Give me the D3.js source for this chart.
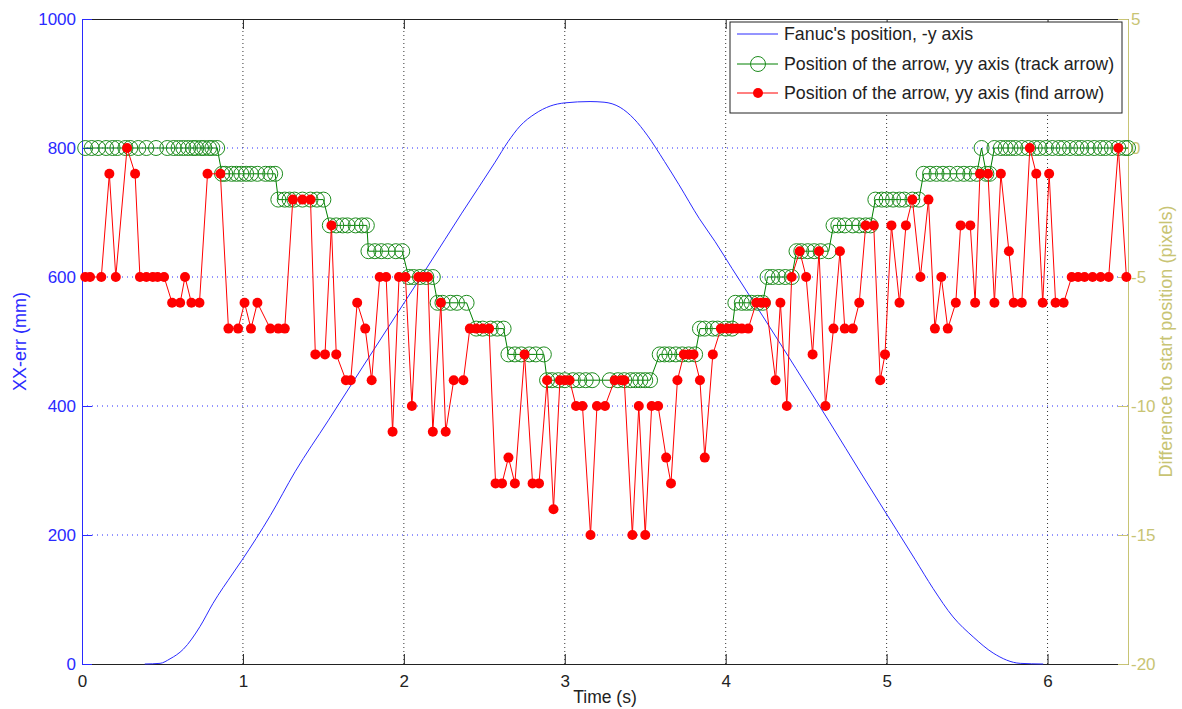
<!DOCTYPE html>
<html>
<head>
<meta charset="utf-8">
<script src="https://cdn.jsdelivr.net/npm/d3@7"></script>
<style>
  body { margin: 0; background: #fff; }
  svg { font-family: "Liberation Sans", Arial, Helvetica, sans-serif; }
</style>
</head>
<body>
<div id="chart"></div>
<script>
// axis ticks
const timeTicks = [0, 1, 2, 3, 4, 5, 6];
const leftTicks = [0, 200, 400, 600, 800, 1000];
const rightTicks = [-20, -15, -10, -5, 0, 5];

// Fanuc's position (mm) against time (s)
const fanucPos = [
  [0.39, 0], [0.485, 1], [0.547, 8], [0.63, 23], [0.733, 58], [0.814, 94], [0.939, 141],
  [0.994, 161], [1.17, 230], [1.324, 298], [1.529, 377], [1.74, 459], [2.007, 562],
  [2.15, 617], [2.36, 699], [2.567, 778], [2.648, 810], [2.722, 834], [2.815, 853],
  [2.909, 865], [3.002, 870], [3.157, 872], [3.244, 871], [3.344, 863], [3.431, 845],
  [3.512, 820], [3.62, 779], [3.71, 743], [3.835, 691], [3.934, 655], [4.04, 613],
  [4.226, 541], [4.437, 458], [4.643, 376], [4.848, 293], [5.059, 209], [5.177, 162],
  [5.289, 117], [5.413, 73], [5.538, 42], [5.662, 17], [5.83, 1], [5.973, 0]
];

// arrow position (pixels), track arrow
const trackArrow = [
  [0.02,0],[0.06,0],[0.10,0],[0.15,0],[0.19,0],[0.22,0],[0.27,0],[0.30,0],[0.35,0],[0.40,0],
  [0.46,0],[0.53,0],[0.57,0],[0.60,0],[0.63,0],[0.66,0],[0.69,0],[0.71,0],[0.74,0],[0.76,0],
  [0.79,0],[0.81,0],[0.84,0],
  [0.87,-1],[0.89,-1],[0.93,-1],[0.96,-1],[0.99,-1],[1.02,-1],[1.05,-1],[1.09,-1],[1.14,-1],
  [1.17,-1],[1.20,-1],
  [1.22,-2],[1.26,-2],[1.29,-2],[1.32,-2],[1.37,-2],[1.42,-2],[1.46,-2],[1.50,-2],
  [1.54,-3],[1.58,-3],[1.62,-3],[1.65,-3],[1.70,-3],[1.74,-3],[1.77,-3],
  [1.78,-4],[1.82,-4],[1.86,-4],[1.90,-4],[1.95,-4],[1.99,-4],
  [2.03,-5],[2.06,-5],[2.10,-5],[2.14,-5],[2.18,-5],
  [2.21,-6],[2.24,-6],[2.29,-6],[2.33,-6],[2.39,-6],
  [2.45,-7],[2.49,-7],[2.54,-7],[2.58,-7],[2.62,-7],
  [2.65,-8],[2.69,-8],[2.73,-8],[2.78,-8],[2.82,-8],[2.87,-8],
  [2.89,-9],[2.92,-9],[2.96,-9],[3.00,-9],[3.05,-9],[3.09,-9],[3.13,-9],[3.17,-9],
  [3.28,-9],[3.33,-9],[3.37,-9],[3.41,-9],[3.44,-9],[3.47,-9],[3.50,-9],[3.53,-9],
  [3.59,-8],[3.62,-8],[3.65,-8],[3.69,-8],[3.73,-8],[3.77,-8],[3.81,-8],
  [3.84,-7],[3.87,-7],[3.92,-7],[3.95,-7],[4.00,-7],[4.04,-7],
  [4.06,-6],[4.10,-6],[4.13,-6],[4.16,-6],[4.20,-6],[4.23,-6],
  [4.26,-5],[4.29,-5],[4.33,-5],[4.37,-5],[4.41,-5],
  [4.44,-4],[4.47,-4],[4.51,-4],[4.55,-4],[4.59,-4],[4.64,-4],
  [4.67,-3],[4.70,-3],[4.74,-3],[4.79,-3],[4.83,-3],[4.87,-3],[4.90,-3],
  [4.93,-2],[4.97,-2],[5.00,-2],[5.04,-2],[5.08,-2],[5.11,-2],[5.16,-2],[5.20,-2],
  [5.23,-1],[5.27,-1],[5.31,-1],[5.35,-1],[5.39,-1],[5.44,-1],[5.48,-1],[5.52,-1],[5.56,-1],
  [5.59,0],[5.62,-1],[5.64,-1],[5.67,0],
  [5.71,0],[5.74,0],[5.77,0],[5.80,0],[5.84,0],[5.88,0],[5.92,0],[5.95,0],[5.99,0],[6.03,0],
  [6.07,0],[6.10,0],[6.14,0],[6.18,0],[6.21,0],[6.25,0],[6.29,0],[6.33,0],[6.36,0],[6.40,0],
  [6.44,0],[6.48,0],[6.50,0]
];

// arrow position (pixels), find arrow
const findArrow = [
  [0.02,-5],[0.05,-5],[0.12,-5],[0.17,-1],[0.21,-5],[0.28,0],[0.33,-1],[0.36,-5],[0.40,-5],
  [0.44,-5],[0.47,-5],[0.51,-5],[0.56,-6],[0.61,-6],[0.64,-5],[0.68,-6],[0.73,-6],[0.78,-1],
  [0.86,-1],[0.91,-7],[0.97,-7],[1.01,-6],[1.05,-7],[1.09,-6],[1.17,-7],[1.22,-7],[1.26,-7],
  [1.31,-2],[1.37,-2],[1.42,-2],[1.45,-8],[1.51,-8],[1.55,-3],[1.58,-8],[1.64,-9],[1.67,-9],
  [1.71,-6],[1.76,-7],[1.80,-9],[1.85,-5],[1.89,-5],[1.93,-11],[1.97,-5],[2.01,-5],[2.05,-10],
  [2.09,-5],[2.12,-5],[2.15,-5],[2.18,-11],[2.23,-6],[2.26,-11],[2.31,-9],[2.37,-9],[2.41,-7],
  [2.45,-7],[2.49,-7],[2.53,-7],[2.57,-13],[2.61,-13],[2.65,-12],[2.69,-13],[2.75,-8],[2.80,-13],
  [2.84,-13],[2.89,-9],[2.93,-14],[2.97,-9],[3.00,-9],[3.03,-9],[3.07,-10],[3.11,-10],[3.16,-15],
  [3.20,-10],[3.25,-10],[3.31,-9],[3.35,-9],[3.37,-9],[3.42,-15],[3.46,-10],[3.50,-15],[3.54,-10],
  [3.58,-10],[3.63,-12],[3.66,-13],[3.70,-9],[3.74,-8],[3.77,-8],[3.80,-8],[3.84,-9],[3.87,-12],
  [3.92,-8],[3.97,-7],[4.01,-7],[4.04,-7],[4.07,-7],[4.10,-7],[4.14,-7],[4.19,-6],[4.22,-6],
  [4.25,-6],[4.31,-9],[4.34,-6],[4.38,-10],[4.41,-5],[4.46,-4],[4.50,-5],[4.54,-8],[4.58,-4],
  [4.62,-10],[4.67,-7],[4.71,-4],[4.74,-7],[4.79,-7],[4.83,-6],[4.87,-3],[4.92,-3],[4.96,-9],
  [4.99,-8],[5.03,-3],[5.08,-6],[5.12,-3],[5.16,-2],[5.21,-5],[5.26,-2],[5.30,-7],[5.34,-5],
  [5.38,-7],[5.43,-6],[5.46,-3],[5.52,-3],[5.55,-6],[5.58,-1],[5.63,-1],[5.67,-6],[5.71,-1],
  [5.76,-4],[5.79,-6],[5.84,-6],[5.89,0],[5.93,-1],[5.97,-6],[6.01,-1],[6.05,-6],[6.10,-6],
  [6.15,-5],[6.19,-5],[6.23,-5],[6.28,-5],[6.33,-5],[6.38,-5],[6.44,0],[6.49,-5]
];

const legendLabels = [
  "Fanuc's position, -y axis",
  "Position of the arrow, yy axis (track arrow)",
  "Position of the arrow, yy axis (find arrow)"
];

const W = 1182, H = 709;
const mLeft = 82, mRight = 1128, mTop = 19, mBottom = 664;
const blue = "#2a2aff", olive = "#c8c474", green = "#008000", red = "#ff0000";

const svg = d3.select("#chart")
              .append("svg")
              .attr("width", W)
              .attr("height", H);

const x = d3.scaleLinear().domain([0, 6.5]).range([mLeft, mRight]);
const yL = d3.scaleLinear().domain([0, 1000]).range([mBottom, mTop]);
const yR = d3.scaleLinear().domain([-20, 5]).range([mBottom, mTop]);

const plain = d => String(d).replace("\u2212", "-");

// grid lines
svg.append("g")
   .selectAll("line")
   .data(timeTicks.slice(1))
   .enter()
   .append("line")
   .attr("x1", d => x(d)).attr("x2", d => x(d))
   .attr("y1", mTop).attr("y2", mBottom)
   .attr("stroke", "#333")
   .attr("stroke-dasharray", "1,3");

svg.append("g")
   .selectAll("line")
   .data(leftTicks.slice(1, -1))
   .enter()
   .append("line")
   .attr("x1", mLeft).attr("x2", mRight)
   .attr("y1", d => yL(d)).attr("y2", d => yL(d))
   .attr("stroke", blue)
   .attr("stroke-dasharray", "1,4");

// x axis (bottom + top)
const xAxis = svg.append("g")
   .attr("transform", `translate(0,${mBottom})`)
   .call(d3.axisBottom(x).tickValues(timeTicks).tickFormat(plain)
           .tickSize(-10).tickSizeOuter(0).tickPadding(11));
xAxis.select(".domain").attr("stroke", "#222");
xAxis.selectAll("line").attr("stroke", "#222");
xAxis.selectAll("text").attr("fill", "#222").style("font-size", "17px");

const xTop = svg.append("g")
   .attr("transform", `translate(0,${mTop})`)
   .call(d3.axisTop(x).tickValues(timeTicks).tickSize(-10).tickSizeOuter(0).tickFormat(""));
xTop.select(".domain").attr("stroke", "#222");
xTop.selectAll("line").attr("stroke", "#222");

// left axis
const yAxisL = svg.append("g")
   .attr("transform", `translate(${mLeft},0)`)
   .call(d3.axisLeft(yL).tickValues(leftTicks).tickFormat(plain)
           .tickSize(-10).tickSizeOuter(0).tickPadding(6));
yAxisL.select(".domain").attr("stroke", blue);
yAxisL.selectAll("line").attr("stroke", blue);
yAxisL.selectAll("text").attr("fill", blue).style("font-size", "17px");

// right axis
const yAxisR = svg.append("g")
   .attr("transform", `translate(${mRight},0)`)
   .call(d3.axisRight(yR).tickValues(rightTicks).tickFormat(plain)
           .tickSize(-10).tickSizeOuter(0).tickPadding(3));
yAxisR.select(".domain").attr("stroke", olive);
yAxisR.selectAll("line").attr("stroke", olive);
yAxisR.selectAll("text").attr("fill", olive).style("font-size", "17px");

// axis labels
svg.append("text")
   .attr("x", (mLeft + mRight) / 2)
   .attr("y", 703)
   .attr("text-anchor", "middle")
   .attr("fill", "#222")
   .style("font-size", "17.5px")
   .text("Time (s)");

svg.append("text")
   .attr("transform", `translate(26,${(mTop + mBottom) / 2}) rotate(-90)`)
   .attr("text-anchor", "middle")
   .attr("fill", blue)
   .style("font-size", "18px")
   .text("XX-err (mm)");

svg.append("text")
   .attr("transform", `translate(1172,${(mTop + mBottom) / 2}) rotate(-90)`)
   .attr("text-anchor", "middle")
   .attr("fill", olive)
   .style("font-size", "18px")
   .text("Difference to start position (pixels)");

// Fanuc's position
svg.append("path")
   .datum(fanucPos)
   .attr("fill", "none")
   .attr("stroke", blue)
   .attr("stroke-width", 1)
   .attr("d", d3.line().x(d => x(d[0])).y(d => yL(d[1])).curve(d3.curveMonotoneX));

// track arrow
svg.append("path")
   .datum(trackArrow)
   .attr("fill", "none")
   .attr("stroke", green)
   .attr("stroke-width", 1)
   .attr("d", d3.line().x(d => x(d[0])).y(d => yR(d[1])));

svg.append("g")
   .selectAll("circle")
   .data(trackArrow)
   .enter()
   .append("circle")
   .attr("cx", d => x(d[0]))
   .attr("cy", d => yR(d[1]))
   .attr("r", 7.5)
   .attr("fill", "none")
   .attr("stroke", "#1e8c1e")
   .attr("stroke-width", 1);

// find arrow
svg.append("path")
   .datum(findArrow)
   .attr("fill", "none")
   .attr("stroke", red)
   .attr("stroke-width", 1)
   .attr("d", d3.line().x(d => x(d[0])).y(d => yR(d[1])));

svg.append("g")
   .selectAll("circle")
   .data(findArrow)
   .enter()
   .append("circle")
   .attr("cx", d => x(d[0]))
   .attr("cy", d => yR(d[1]))
   .attr("r", 5)
   .attr("fill", red);

// legend
const lg = svg.append("g");
lg.append("rect")
  .attr("x", 730).attr("y", 22)
  .attr("width", 392).attr("height", 91)
  .attr("fill", "#fff")
  .attr("stroke", "#222");

const rowY = [34, 64, 93];
const sampleColors = [blue, green, red];
rowY.forEach((yy, i) => {
  lg.append("line")
    .attr("x1", 737).attr("x2", 778)
    .attr("y1", yy).attr("y2", yy)
    .attr("stroke", sampleColors[i]);
  if (i === 1) {
    lg.append("circle").attr("cx", 758).attr("cy", yy).attr("r", 7.5)
      .attr("fill", "none").attr("stroke", "#1e8c1e");
  }
  if (i === 2) {
    lg.append("circle").attr("cx", 758).attr("cy", yy).attr("r", 5).attr("fill", red);
  }
  lg.append("text")
    .attr("x", 784)
    .attr("y", yy + 6)
    .attr("fill", "#222")
    .style("font-size", "17.8px")
    .text(legendLabels[i]);
});
</script>
</body>
</html>
